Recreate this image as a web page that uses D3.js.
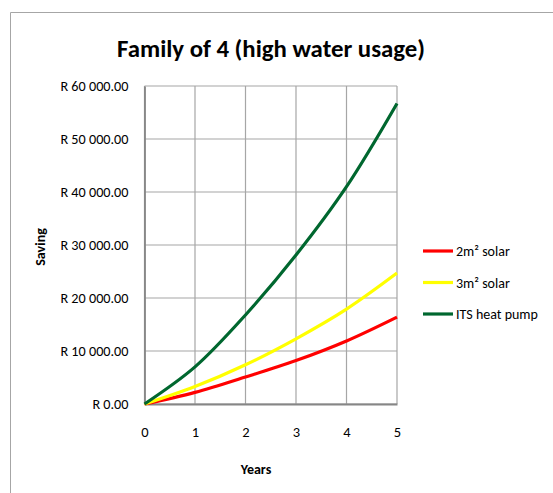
<!DOCTYPE html>
<html>
<head>
<meta charset="utf-8">
<script src="https://cdn.jsdelivr.net/npm/d3@7"></script>
<style>
  body { margin: 0; background: #fff; }
  text { font-family: Carlito, 'Liberation Sans Narrow', 'Open Sans', sans-serif; fill: #000; }
</style>
</head>
<body>
<svg id="svg" width="553" height="493"></svg>
<script>
const years = [0, 1, 2, 3, 4, 5]
const solar2 = [0, 2200, 5100, 8200, 11900, 16400]
const solar3 = [0, 3300, 7400, 12300, 17900, 24700]
const heatPump = [0, 7000, 16800, 28100, 41000, 56700]
const seriesNames = ['2m² solar', '3m² solar', 'ITS heat pump']
const seriesColors = ['#ff0000', '#ffff00', '#00672f']
const yTicks = [0, 10000, 20000, 30000, 40000, 50000, 60000]

const margin = { top: 86, left: 144.5, right: 156, bottom: 89 }
const width = 553 - margin.left - margin.right
const height = 493 - margin.top - margin.bottom

const svg = d3.select('#svg')

// outer chart frame
svg.append('path')
  .attr('d', 'M10.5,493 V12.5 H553')
  .attr('fill', 'none')
  .attr('stroke', '#a6a6a6')
  .attr('stroke-width', 1)

svg.append('text')
  .text('Family of 4 (high water usage)')
  .attr('x', 271)
  .attr('y', 57)
  .attr('text-anchor', 'middle')
  .attr('font-size', 24.8)
  .attr('font-weight', 'bold')

const x = d3.scaleLinear().domain([0, 5]).range([margin.left, margin.left + width])
const y = d3.scaleLinear().domain([0, 60000]).range([margin.top + height, margin.top])

const fmt = v => 'R ' + (v === 0 ? '0.00' : d3.format(',')(v).replace(/,/g, ' ') + '.00')

// grid
svg.append('g')
  .selectAll('line')
  .data(yTicks)
  .enter()
  .append('line')
  .attr('x1', x(0)).attr('x2', x(5))
  .attr('y1', d => y(d)).attr('y2', d => y(d))
  .attr('stroke', '#a6a6a6')
  .attr('stroke-width', 1.2)

svg.append('g')
  .selectAll('line')
  .data(years)
  .enter()
  .append('line')
  .attr('x1', d => x(d)).attr('x2', d => x(d))
  .attr('y1', y(0)).attr('y2', y(60000))
  .attr('stroke', '#a6a6a6')
  .attr('stroke-width', 1.2)

const leftAxis = d3.axisLeft(y).tickValues(yTicks).tickFormat(fmt).tickSize(0).tickPadding(16)
const gy = svg.append('g')
  .attr('transform', `translate(${margin.left}, 0)`)
  .call(leftAxis)
gy.attr('font-size', 14.2)
gy.select('.domain').attr('stroke', '#868686').attr('stroke-width', 1.8)
gy.selectAll('text').attr('fill', '#000').style('font-family', null)

const bottomAxis = d3.axisBottom(x).tickValues(years).tickFormat(d3.format('d')).tickSize(0).tickPadding(23)
const gx = svg.append('g')
  .attr('transform', `translate(0, ${margin.top + height})`)
  .call(bottomAxis)
gx.attr('font-size', 14.5)
gx.select('.domain').attr('stroke', '#868686').attr('stroke-width', 1.8)
gx.selectAll('text').attr('fill', '#000').style('font-family', null)

svg.append('text')
  .text('Saving')
  .attr('transform', `translate(45, 247) rotate(-90)`)
  .attr('text-anchor', 'middle')
  .attr('font-size', 14)
  .attr('font-weight', 'bold')

svg.append('text')
  .text('Years')
  .attr('x', 256)
  .attr('y', 474)
  .attr('text-anchor', 'middle')
  .attr('font-size', 14)
  .attr('font-weight', 'bold')

const series = [solar2, solar3, heatPump]
const line = d3.line()
  .x((d, i) => x(years[i]))
  .y(d => y(d))
  .curve(d3.curveCatmullRom.alpha(0.5))

svg.append('g')
  .selectAll('path')
  .data(series)
  .enter()
  .append('path')
  .attr('d', d => line(d))
  .attr('fill', 'none')
  .attr('stroke', (d, i) => seriesColors[i])
  .attr('stroke-width', 3.2)

const legend = svg.append('g')
  .selectAll('g')
  .data(seriesNames)
  .enter()
  .append('g')
  .attr('transform', (d, i) => `translate(423, ${251 + i * 31.5})`)

legend.append('line')
  .attr('x1', 0).attr('x2', 30)
  .attr('stroke', (d, i) => seriesColors[i])
  .attr('stroke-width', 3.2)

legend.append('text')
  .text(d => d)
  .attr('x', 33)
  .attr('y', 5)
  .attr('font-size', 14)
</script>
</body>
</html>
